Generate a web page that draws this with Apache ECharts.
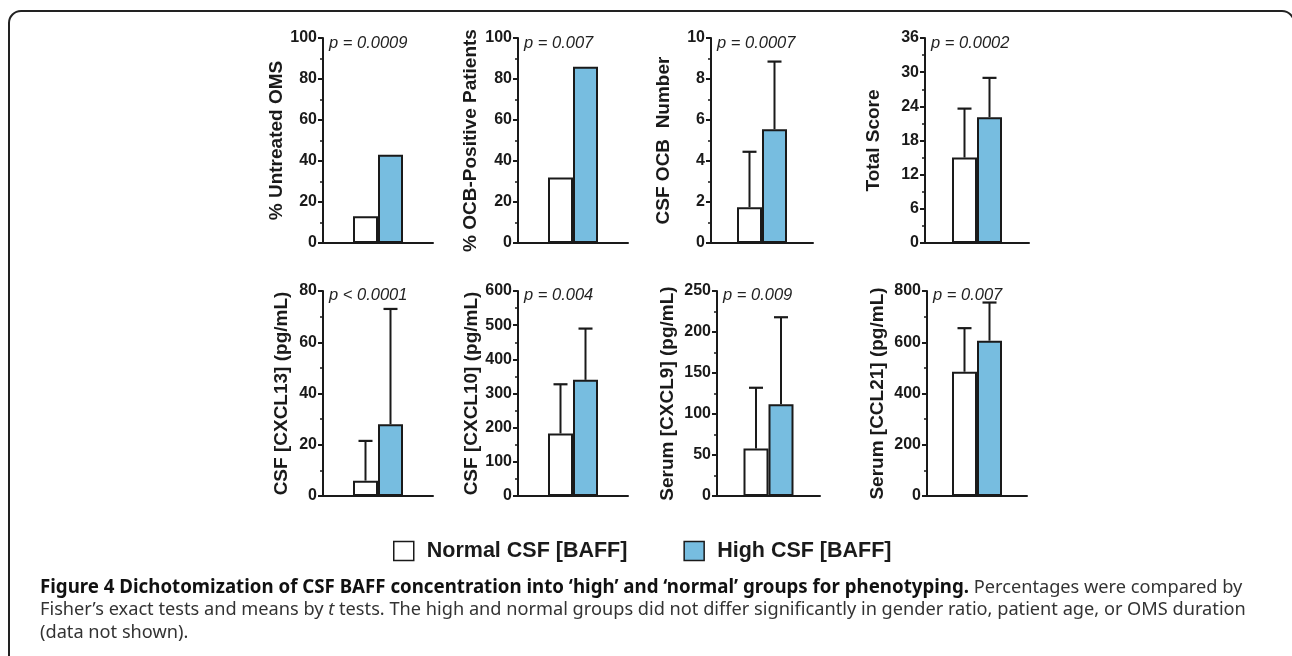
<!DOCTYPE html>
<html>
<head>
<meta charset="utf-8">
<script src="https://cdn.jsdelivr.net/npm/echarts@6/dist/echarts.min.js"></script>
<style>
html,body{margin:0;padding:0;background:#fff;}
#chart{width:1292px;height:656px;}
</style>
</head>
<body>
<div id="chart"></div>
<script>
// ---- data ----
const yNames = ['% Untreated OMS','% OCB-Positive Patients','CSF OCB  Number','Total Score',
                'CSF [CXCL13] (pg/mL)','CSF [CXCL10] (pg/mL)','Serum [CXCL9] (pg/mL)','Serum [CCL21] (pg/mL)'];
const pValues = ['p = 0.0009','p = 0.007','p = 0.0007','p = 0.0002','p < 0.0001','p = 0.004','p = 0.009','p = 0.007'];
const yMax = [100,100,10,36,80,600,250,800];
const yInterval = [20,20,2,6,20,100,50,200];
const normalMean  = [13, 32, 1.75, 15,   6,  183, 58,  485];
const normalUpper = [null,null,4.45,23.6,21.5,327,132, 655];
const highMean    = [43, 86, 5.55, 22.1, 28, 340, 112, 606];
const highUpper   = [null,null,8.85,29,  73, 490, 218, 755];
const groupNames = ['Normal CSF [BAFF]','High CSF [BAFF]'];

// ---- layout / style ----
const layout = [
  {left:323, top:38,  width:110, height:205, gap:28, pTop:35},
  {left:518, top:38,  width:110, height:205, gap:38, pTop:35},
  {left:711, top:38,  width:102, height:205, gap:38, pTop:35},
  {left:925, top:38,  width:104, height:205, gap:42, pTop:35},
  {left:323, top:291, width:110, height:205, gap:32, pTop:287},
  {left:518, top:291, width:110, height:205, gap:28, pTop:287},
  {left:717, top:291, width:103, height:205, gap:40, pTop:287},
  {left:927, top:291, width:100, height:205, gap:40, pTop:287}
];
const BAR_W = 25;
const INK = '#1a1a1a';
const BLUE = '#77bde0';
const labelFont = 'Liberation Sans, Arial, sans-serif';

const grids = [], xAxes = [], yAxes = [], series = [], graphics = [];

layout.forEach((L, i) => {
  grids.push({left:L.left, top:L.top, width:L.width, height:L.height, containLabel:false});
  xAxes.push({
    type:'category', gridIndex:i, data:[''],
    axisLine:{show:true, onZero:false, lineStyle:{color:INK, width:2}},
    axisTick:{show:false}, axisLabel:{show:false}, splitLine:{show:false}
  });
  yAxes.push({
    type:'value', gridIndex:i, min:0, max:yMax[i], interval:yInterval[i],
    name:yNames[i], nameLocation:'middle', nameGap:L.gap,
    nameTextStyle:{fontFamily:labelFont, fontWeight:'bold', fontSize:19, color:INK},
    axisLine:{show:true, lineStyle:{color:INK, width:2}},
    axisTick:{show:true, length:5, lineStyle:{color:INK, width:2}},
    minorTick:{show:true, splitNumber:2, length:3, lineStyle:{color:INK, width:1.5}},
    splitLine:{show:false}, minorSplitLine:{show:false},
    axisLabel:{fontFamily:labelFont, fontWeight:'bold', fontSize:16, color:INK, margin:6}
  });
  series.push({
    name:groupNames[0], type:'bar', xAxisIndex:i, yAxisIndex:i,
    data:[normalMean[i]], barWidth:BAR_W, barGap:'0%',
    itemStyle:{color:'#ffffff', borderColor:INK, borderWidth:2}, silent:true
  });
  series.push({
    name:groupNames[1], type:'bar', xAxisIndex:i, yAxisIndex:i,
    data:[highMean[i]], barWidth:BAR_W, barGap:'0%',
    itemStyle:{color:BLUE, borderColor:INK, borderWidth:2}, silent:true
  });
  const errData = [];
  if (normalUpper[i] != null) errData.push([0, normalMean[i], normalUpper[i], -1]);
  if (highUpper[i] != null) errData.push([0, highMean[i], highUpper[i], 1]);
  if (errData.length) {
    series.push({
      type:'custom', xAxisIndex:i, yAxisIndex:i, data:errData, z:1, silent:true,
      renderItem:function(params, api){
        const side = api.value(3);
        const base = api.coord([0, api.value(1)]);
        const top = api.coord([0, api.value(2)]);
        const x = base[0] + side*BAR_W/2;
        return {type:'group', children:[
          {type:'line', shape:{x1:x, y1:base[1], x2:x, y2:top[1]}, style:{stroke:INK, lineWidth:2}},
          {type:'line', shape:{x1:x-7, y1:top[1], x2:x+7, y2:top[1]}, style:{stroke:INK, lineWidth:2.2}}
        ]};
      }
    });
  }
  graphics.push({
    type:'text', left:L.left+6, top:L.pTop,
    style:{text:pValues[i], font:'italic 16.5px Liberation Sans, Arial, sans-serif', fill:'#222'}
  });
});

// frame
graphics.push({
  type:'rect', shape:{x:9, y:11, width:1285, height:700, r:12},
  style:{fill:'none', stroke:'#222', lineWidth:2}, z:-1
});

// caption
const capFont = 'Noto Sans, Open Sans, sans-serif';
const CAP_B = 18.7, CAP = 18.2;
graphics.push({
  type:'text', left:40, top:578,
  style:{
    rich:{
      b:{fontFamily:capFont, fontWeight:'bold', fontSize:CAP_B, fill:'#111'},
      n:{fontFamily:capFont, fontSize:CAP, fill:'#333'}
    },
    text:'{b|Figure 4 Dichotomization of CSF BAFF concentration into \u2018high\u2019 and \u2018normal\u2019 groups for phenotyping.}{n| Percentages were compared by}'
  }
});
graphics.push({
  type:'text', left:40, top:601,
  style:{
    rich:{
      n:{fontFamily:capFont, fontSize:CAP, fill:'#333'},
      i:{fontFamily:capFont, fontStyle:'italic', fontSize:CAP, fill:'#333'}
    },
    text:'{n|Fisher\u2019s exact tests and means by }{i|t}{n| tests. The high and normal groups did not differ significantly in gender ratio, patient age, or OMS duration}'
  }
});
graphics.push({
  type:'text', left:40, top:624,
  style:{text:'(data not shown).', fontFamily:capFont, fontSize:CAP, fill:'#333'}
});

const chart = echarts.init(document.getElementById('chart'));
chart.setOption({
  animation:false,
  backgroundColor:'#ffffff',
  grid:grids, xAxis:xAxes, yAxis:yAxes, series:series,
  legend:{
    data:groupNames, left:388, top:535, icon:'rect', itemWidth:20, itemHeight:19, itemGap:56,
    itemStyle:{borderColor:INK, borderWidth:1.5},
    textStyle:{fontFamily:labelFont, fontWeight:'bold', fontSize:21.5, color:INK, padding:[0,0,0,8]},
    selectedMode:false
  },
  graphic:graphics
});
</script>
</body>
</html>
